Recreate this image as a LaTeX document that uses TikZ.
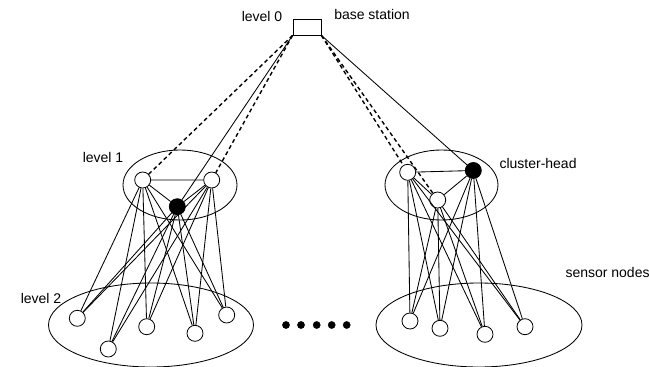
\documentclass[tikz,border=0pt]{standalone}
\usepackage{fontspec}
\setmainfont{Liberation Sans}
\usetikzlibrary{calc}

\tikzset{
	sensor/.style={circle,draw,fill=white,line width=0.8pt,minimum size=16pt,inner sep=0pt},
	head/.style={sensor,fill=black},
	link/.style={line width=0.85pt},
	uplink/.style={line width=1.4pt,dash pattern=on 4pt off 3pt}
}

\begin{document}
\begin{tikzpicture}[x=1pt,y=-1pt,font=\fontsize{14}{16}\selectfont]
	\useasboundingbox (0,0) rectangle (649,367);

	% Group ellipses
	\draw[link] (180,185) ellipse (57 and 35);
	\draw[link] (441.5,185) ellipse (56.5 and 35);
	\draw[link] (151,325) ellipse (102.5 and 42);
	\draw[link] (479,325) ellipse (103 and 42);

	% Base station
	\node[draw,line width=0.8pt,minimum width=28pt,minimum height=16pt,inner sep=0pt] (bs) at (307,27) {};

	% Level 1
	\node[sensor] (la) at (142.7,180) {};
	\node[sensor] (lb) at (211.7,180) {};
	\node[head] (lh) at (177.3,206.7) {};
	\node[sensor] (ra) at (407.7,172.3) {};
	\node[sensor] (rb) at (437.7,200) {};
	\node[head] (rh) at (473.3,170.5) {};

	% Level 2
	\node[sensor] (l2a) at (77.3,318.3) {};
	\node[sensor] (l2b) at (108.3,349) {};
	\node[sensor] (l2c) at (146.7,326.7) {};
	\node[sensor] (l2d) at (195,333.3) {};
	\node[sensor] (l2e) at (226.7,315) {};
	\node[sensor] (r2a) at (410,321) {};
	\node[sensor] (r2b) at (440,328.3) {};
	\node[sensor] (r2c) at (485,334.3) {};
	\node[sensor] (r2d) at (525,326.7) {};

	% Links to the base station
	\draw[uplink] (bs.south west) -- (la);
	\draw[uplink] (bs.south west) -- (lb);
	\draw[link] (bs.south west) -- (lh);
	\draw[uplink] (bs.south east) -- (ra);
	\draw[uplink] (bs.south east) -- (rb);
	\draw[link] (bs.south east) -- (rh);

	% Links inside the clusters
	\draw[link] (la) -- (lb) -- (lh) -- (la);
	\draw[link] (ra) -- (rh) -- (rb) -- (ra);

	% Links down to the sensor nodes
	\foreach \u in {la,lb,lh}
		\foreach \v in {l2a,l2b,l2c,l2d,l2e}
			\draw[link] (\u) -- (\v);
	\foreach \u in {ra,rb,rh}
		\foreach \v in {r2a,r2b,r2c,r2d}
			\draw[link] (\u) -- (\v);

	% Dots
	\foreach \x in {286,301,316.7,331.7,346.7}
		\filldraw (\x,325) circle (3.6);

	% Labels
	\node (lv0) at (262,16) {level 0};
	\node (bsl) at (372,14) {base station};
	\node (lv1) at (103,157) {level 1};
	\node[anchor=west] (chl) at (496,163) {cluster-head};
	\node (lv2) at (41,298) {level 2};
	\node[anchor=west] (snl) at (562,272) {sensor nodes};
\end{tikzpicture}
\end{document}
